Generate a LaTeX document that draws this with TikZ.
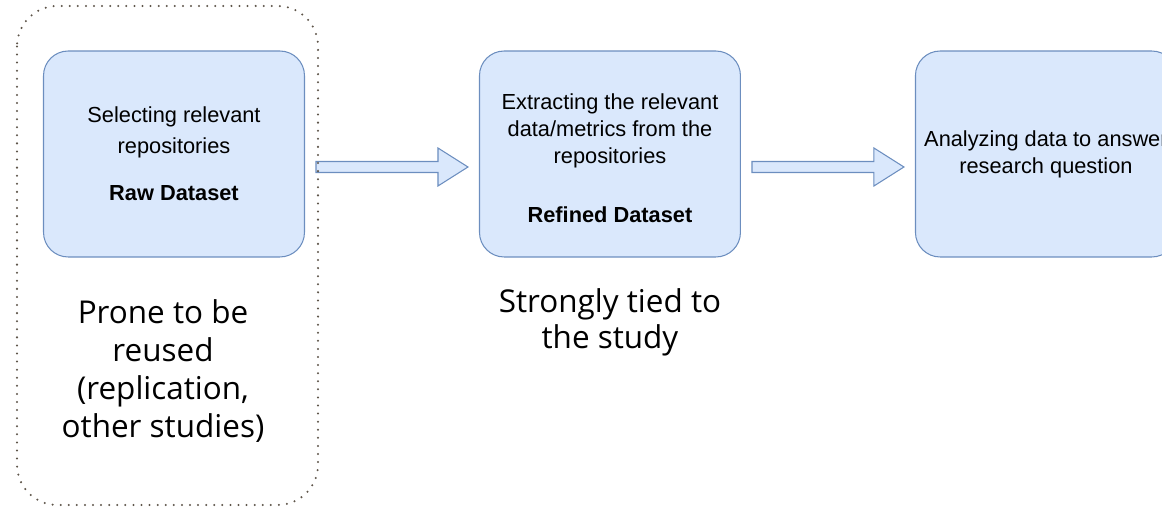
\documentclass[tikz,border=0pt]{standalone}
\usepackage{fontspec}
\setmainfont{Liberation Sans}
\newfontfamily\notefont{Open Sans}
\usepackage{xcolor}
\definecolor{stagefill}{HTML}{DAE8FC}
\definecolor{stageline}{HTML}{6C8EBF}
\definecolor{groupdots}{HTML}{5E554A}
\usetikzlibrary{positioning, calc}

\begin{document}
\begin{tikzpicture}[x=0.02cm, y=-0.02cm,
  stage/.style={rectangle, rounded corners=14pt, draw=stageline, line width=0.6pt, fill=stagefill, minimum width=5.22cm, minimum height=4.12cm, inner sep=0pt, align=center, font=\fontsize{12.4pt}{15.4pt}\selectfont},
  note/.style={inner sep=0pt, align=center, font=\notefont\fontsize{17.9pt}{21.6pt}\selectfont},
  bigarrow/.style={draw=stageline, line width=0.6pt, fill=stagefill, line join=miter},
  reusegroup/.style={draw=groupdots, line width=1.3pt, line cap=round, dash pattern=on 0pt off 4.6pt, rounded corners=23pt}
]
\useasboundingbox (0,0) rectangle (1162,509);
\clip (0,0) rectangle (1162,509);

% Nodes
\node[stage, font=\fontsize{12.4pt}{17.4pt}\selectfont] (raw) at (174,154) {Selecting relevant\\repositories\\[9.8pt]\textbf{Raw Dataset}};
\node[stage, right=3.48cm of raw] (refined) {\rule{0pt}{14pt}Extracting the relevant\\data/metrics from the\\repositories\\[18pt]\textbf{Refined Dataset}};
\node[stage, right=3.48cm of refined] (answer) {Analyzing data to answer\\research question};

\node[note, below=0.84cm of raw, xshift=-0.22cm] (reuse) {Prone to be\\reused\\(replication,\\other studies)};
\node[note, below=0.62cm of refined, font=\notefont\fontsize{17.9pt}{20.4pt}\selectfont] (tied) {Strongly tied to\\the study};

% Flows
\foreach \from/\to in {raw/refined, refined/answer}
  \draw[bigarrow] ($(\from.east)+(11,7.5)$) -- ($(\to.west)+(-41,7.5)$) -- ($(\to.west)+(-41,-6)$) -- ($(\to.west)+(-11,13)$) -- ($(\to.west)+(-41,32)$) -- ($(\to.west)+(-41,18.5)$) -- ($(\from.east)+(11,18.5)$) -- cycle;

% Reuse group
\draw[reusegroup] (17,6) rectangle (318,505);

\end{tikzpicture}
\end{document}
